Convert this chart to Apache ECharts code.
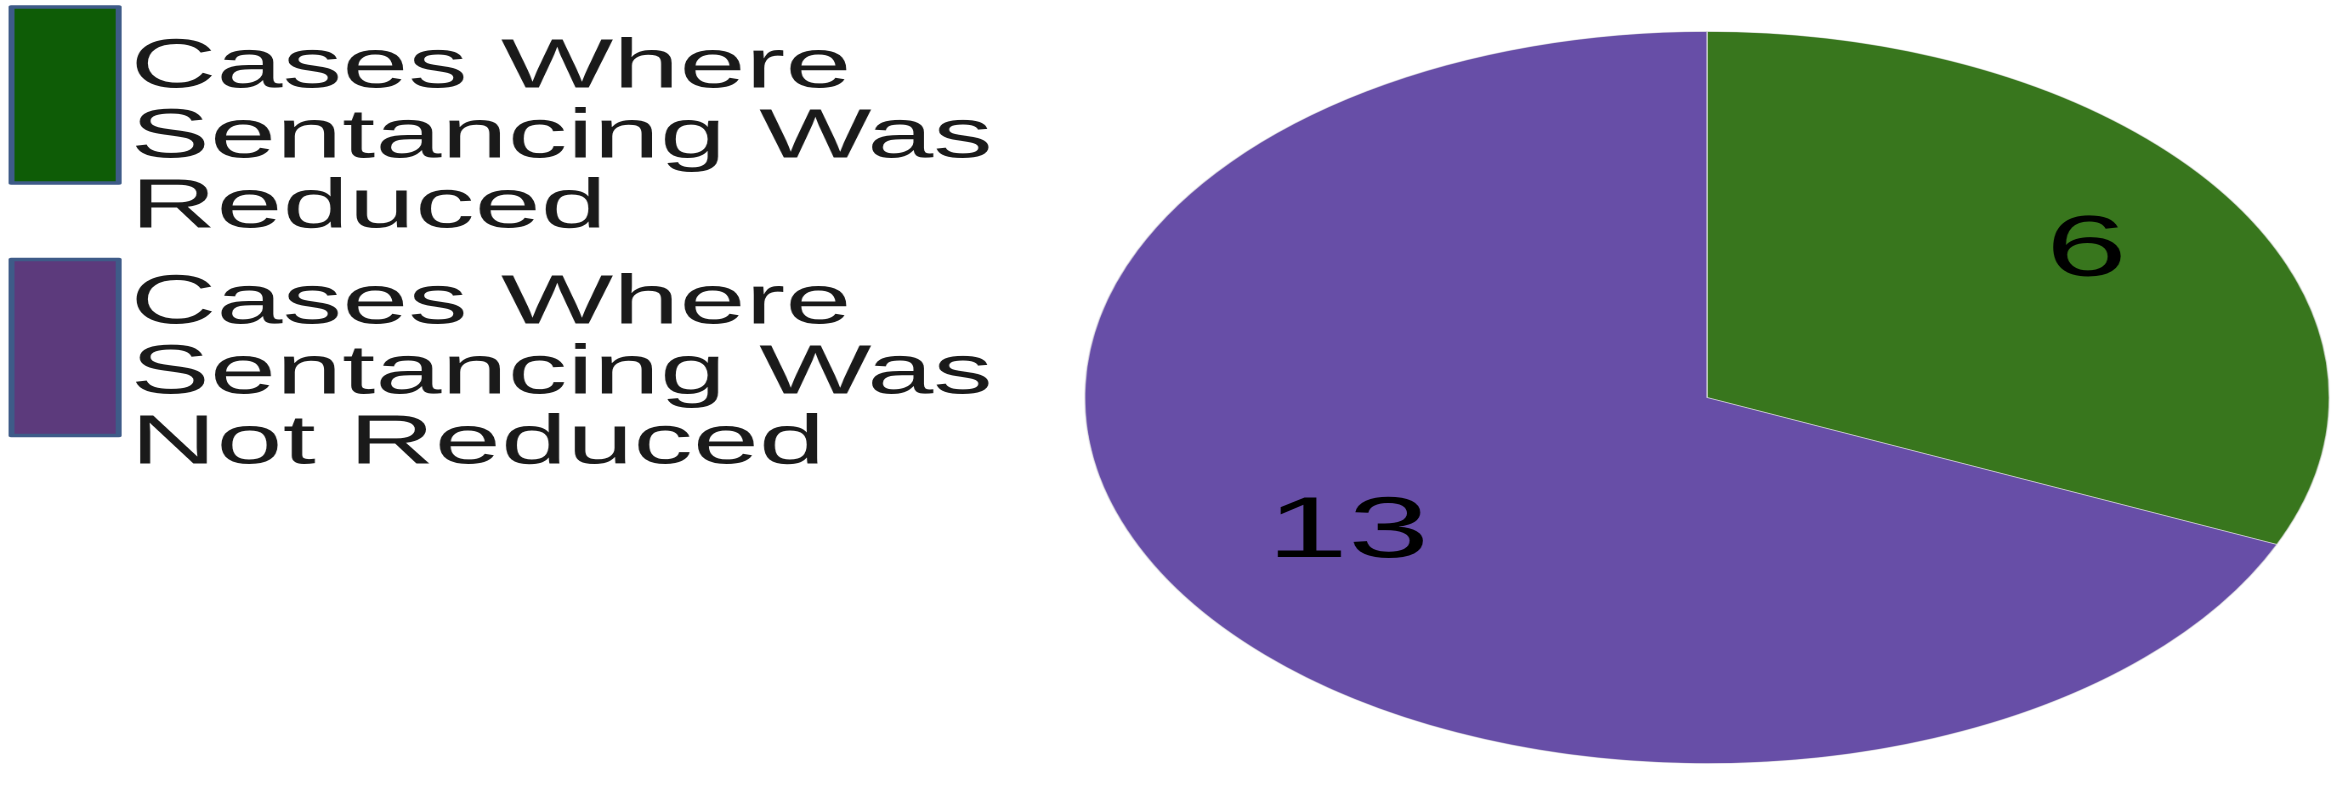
<!DOCTYPE html>
<html>
<head>
<meta charset="utf-8">
<script src="https://cdn.jsdelivr.net/npm/echarts@6/dist/echarts.min.js"></script>
<style>
html,body{margin:0;padding:0;background:#fff;overflow:hidden;width:2331px;height:802px;}
#wrap{position:absolute;left:0;top:0;width:1371px;height:802px;transform:scaleX(1.7002);transform-origin:0 0;}
#chart{width:1371px;height:802px;}
</style>
</head>
<body>
<div id="wrap"><div id="chart"></div></div>
<script>
const categories = ['Cases Where Sentancing Was Reduced', 'Cases Where Sentancing Was Not Reduced'];
const values = [6, 13];

const sliceColors = ['#38761d', '#674ea7'];
const legendColors = ['#0e5c06', '#5c3a7c'];

const chart = echarts.init(document.getElementById('chart'), null, {renderer: 'canvas', devicePixelRatio: 2});
const font = '"Liberation Sans", Arial, sans-serif';
const R = 366;
const C = [1004, 397.5];

function wrapWords(name, maxChars) {
  const words = name.split(' ');
  const lines = [];
  let cur = '';
  words.forEach(w => {
    const next = cur ? cur + ' ' + w : w;
    if (next.length > maxChars && cur) { lines.push(cur); cur = w; }
    else cur = next;
  });
  if (cur) lines.push(cur);
  return lines.join('\n');
}

function legendFor(i, top, spacer) {
  return {
    orient: 'vertical', left: 5, top: top, padding: 0,
    itemWidth: 63, itemHeight: 176, icon: 'rect',
    selectedMode: false,
    data: [{name: categories[i], itemStyle: {color: legendColors[i], borderColor: '#3e5b88', borderWidth: 3.5}}],
    formatter: name => '{s| }\n{t|' + wrapWords(name, 14) + '}',
    textStyle: {
      rich: {
        s: {fontSize: 10, lineHeight: spacer},
        t: {fontFamily: font, fontSize: 70, lineHeight: 70, color: '#1a1a1a', padding: [0, 0, 0, 2]}
      }
    }
  };
}

const data = categories.map((n, i) => ({name: n, value: values[i], itemStyle: {color: sliceColors[i]}}));
const labelOffsets = [[0, 0], [12, -10]];

chart.setOption({
  animation: false,
  backgroundColor: '#ffffff',
  legend: [legendFor(0, -15, 86), legendFor(1, 237.5, 53)],
  series: [
    {
      type: 'pie', center: C, radius: [0, R], startAngle: 90, clockwise: true,
      silent: true, label: {show: false}, labelLine: {show: false},
      itemStyle: {borderColor: 'rgba(230,230,230,0.7)', borderWidth: 0.8},
      data: data
    },
    {
      type: 'pie', center: C, radius: [R * 0.44, R], startAngle: 90, clockwise: true,
      silent: true, labelLine: {show: false},
      itemStyle: {color: 'rgba(0,0,0,0)'},
      label: {show: true, position: 'inside', formatter: '{c}', fontFamily: font, fontSize: 86, color: '#000'},
      data: categories.map((n, i) => ({name: n, value: values[i], label: {offset: labelOffsets[i]}}))
    }
  ]
});
</script>
</body>
</html>
